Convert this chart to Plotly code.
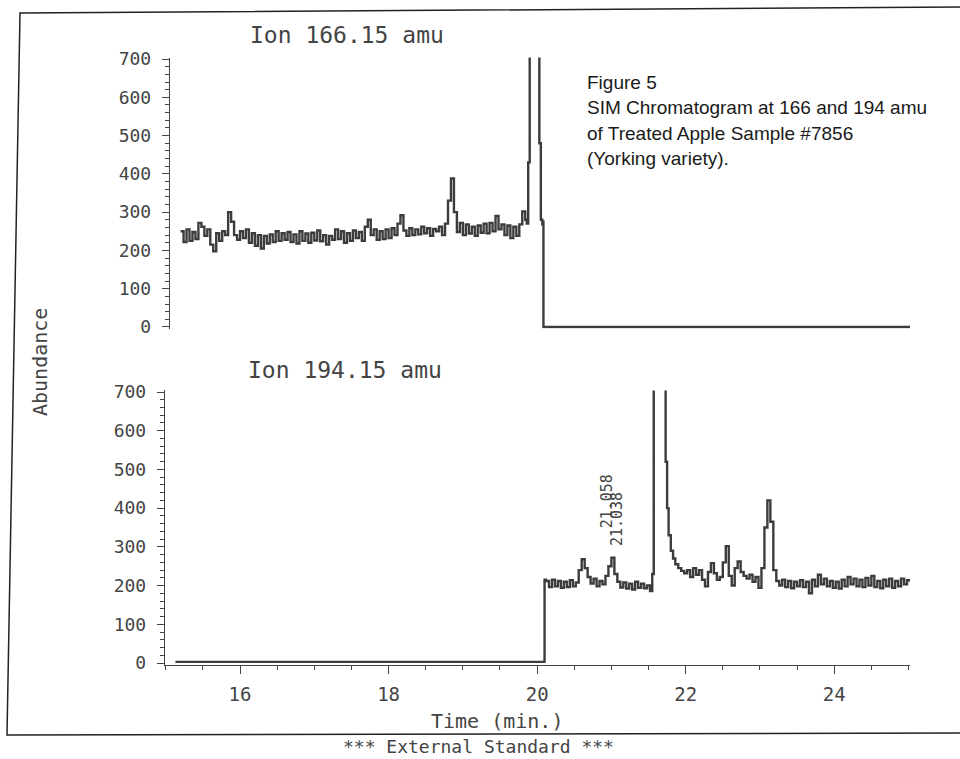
import plotly.graph_objects as go

# ---------------- data ----------------
# Ion 166.15 amu : noisy section sampled every 0.04 min from 15.20 min
top_scan_start = 15.20
top_scan_step = 0.04
top_noise = [250, 222, 255, 225, 248, 230, 272, 262, 238, 255,
             215, 198, 245, 225, 250, 240, 300, 275, 240, 228,
             250, 232, 255, 220, 245, 212, 240, 205, 238, 218,
             242, 222, 250, 225, 245, 228, 248, 222, 242, 218,
             250, 225, 244, 220, 246, 226, 252, 224, 240, 215,
             238, 228, 255, 230, 250, 220, 245, 225, 252, 232,
             248, 225, 262, 280, 240, 255, 228, 250, 230, 255,
             232, 258, 240, 270, 292, 252, 238, 258, 240, 255,
             242, 262, 245, 258, 238, 256, 250, 262, 240, 270,
             330, 388, 300, 248, 272, 240, 268, 244, 262, 238,
             265, 246, 270, 245, 272, 250, 290, 255, 268, 240,
             265, 232, 262, 238, 268, 302, 280]
top_end_time = [19.86, 19.88, 19.90, 19.93, 20.00, 20.03, 20.05, 20.07, 20.08, 20.085, 25.02]
top_end_vals = [270, 430, 760, 900, 900, 480, 280, 268, 275, 0, 0]

# Ion 194.15 amu
bot_start_time = [15.13, 20.09, 20.10]
bot_start_vals = [3, 3, 215]
bot_scan1_start = 20.12
bot_scan_step = 0.04
bot_noise1 = [212, 196, 215, 198, 212, 194, 210, 196, 214, 198,
              208, 240, 268, 245, 222, 205, 218, 198, 212, 203,
              225, 250, 272, 230, 210, 195, 208, 192, 205, 190,
              210, 194, 205, 193, 200, 186]
bot_peak_time = [21.55, 21.57, 21.65, 21.71, 21.73, 21.75, 21.77, 21.80, 21.83,
                 21.86, 21.90, 21.94, 21.98]
bot_peak_vals = [230, 900, 950, 900, 520, 400, 330, 290, 270, 255, 245, 238, 232]
bot_scan2_start = 22.02
bot_noise2 = [240, 222, 245, 228, 240, 215, 198, 235, 258, 232,
              215, 222, 260, 302, 225, 200, 245, 262, 235, 225,
              218, 228, 210, 222, 194, 245, 350, 420, 365, 240,
              212, 200, 215, 196, 212, 193, 210, 198, 214, 196,
              210, 180, 215, 198, 228, 203, 218, 198, 212, 194,
              210, 192, 215, 198, 222, 203, 218, 198, 215, 196,
              220, 200, 225, 196, 212, 193, 215, 198, 218, 194,
              212, 198, 218, 203, 214]

x_ticks = [16, 18, 20, 22, 24]
y_ticks = [0, 100, 200, 300, 400, 500, 600, 700]
peak_label_a = ("21.038", 21.077, 372)
peak_label_b = ("21.058", 20.943, 418)

# ---------------- build series ----------------
top_t = [round(top_scan_start + i * top_scan_step, 3) for i in range(len(top_noise))] + top_end_time
top_v = top_noise + top_end_vals

bot_t = (bot_start_time
         + [round(bot_scan1_start + i * bot_scan_step, 3) for i in range(len(bot_noise1))]
         + bot_peak_time
         + [round(bot_scan2_start + i * bot_scan_step, 3) for i in range(len(bot_noise2))]
         + [25.02])
bot_v = bot_start_vals + bot_noise1 + bot_peak_vals + bot_noise2 + [210]

# ---------------- layout helpers ----------------
W, H = 960, 759
ML, MR, MT, MB = 165, 50, 40, 80
PW, PH = W - ML - MR, H - MT - MB


def fx(p):
    return (p - ML) / PW


def fy(p):
    return (H - MB - p) / PH


INK = "#444444"
MONO = "DejaVu Sans Mono"
XR = [14.99, 25.02]
PX_PER_MIN = PW / (XR[1] - XR[0])
XR_TOP = [XR[0] + 5 / PX_PER_MIN, XR[1]]
YR = [-4, 704]
TRACE = "#3c3c3c"

fig = go.Figure()
fig.add_trace(go.Scatter(x=top_t, y=top_v, mode="lines", xaxis="x2", yaxis="y2",
                         line=dict(color=TRACE, width=2.4, shape="hv"),
                         showlegend=False, hoverinfo="skip"))
fig.add_trace(go.Scatter(x=bot_t, y=bot_v, mode="lines", xaxis="x", yaxis="y",
                         line=dict(color=TRACE, width=2.4, shape="hv"),
                         showlegend=False, hoverinfo="skip"))

yaxis_common = dict(range=YR, tickmode="array", tickvals=y_ticks, ticks="outside", ticklen=7,
                    tickwidth=1.2, tickcolor=INK, showline=True, linecolor=INK, linewidth=1.4,
                    showgrid=False, zeroline=False, ticklabelstandoff=7,
                    tickfont=dict(family=MONO, size=18, color=INK),
                    minor=dict(dtick=20, tick0=0, ticks="outside", ticklen=4, tickcolor=INK,
                               tickwidth=1, showgrid=False))

fig.update_layout(
    width=W, height=H, margin=dict(l=ML, r=MR, t=MT, b=MB),
    paper_bgcolor="white", plot_bgcolor="white",
    xaxis=dict(range=XR, domain=[0, 1], anchor="y", tickmode="array", tickvals=x_ticks,
               ticks="outside", ticklen=8, tickwidth=1.2, tickcolor=INK, showline=True,
               linecolor=INK, linewidth=1.4, showgrid=False, zeroline=False,
               ticklabelstandoff=4, tickfont=dict(family=MONO, size=19, color=INK),
               minor=dict(dtick=0.5, tick0=15, ticks="outside", ticklen=4, tickcolor=INK,
                          tickwidth=1, showgrid=False)),
    xaxis2=dict(range=XR_TOP, domain=[fx(170), 1], anchor="y2", visible=False),
    yaxis=dict(domain=[fy(664.55), fy(390.45)], anchor="x", **yaxis_common),
    yaxis2=dict(domain=[fy(328.5), fy(57.5)], anchor="x2", **yaxis_common),
)


def pann(text, xp, yp, size, family=MONO, color=INK, xanchor="center", angle=0):
    return dict(text=text, x=fx(xp), y=fy(yp), xref="paper", yref="paper",
                xanchor=xanchor, yanchor="middle", textangle=angle, showarrow=False,
                font=dict(family=family, size=size, color=color))


ann = [
    pann("Ion 166.15 amu", 347, 35, 23),
    pann("Ion 194.15 amu", 345, 370, 23),
    pann("Abundance", 40, 362, 20, angle=-90),
    pann("Time (min.)", 497, 721, 20),
    pann("*** External Standard ***", 478, 746, 18),
]
fig_lines = ["Figure 5", "SIM Chromatogram at 166 and 194 amu",
             "of Treated Apple Sample #7856", "(Yorking variety)."]
for i, line in enumerate(fig_lines):
    ann.append(pann(line, 585, 83 + i * 25, 19, family="Liberation Sans",
                    color="#1a1a1a", xanchor="left"))
for txt, xv, yv in (peak_label_a, peak_label_b):
    ann.append(dict(text=txt, x=xv, y=yv, xref="x", yref="y", textangle=-90,
                    xanchor="center", yanchor="middle",
                    showarrow=False, font=dict(family=MONO, size=15, color=INK)))
fig.update_layout(annotations=ann)

# page frame (scanned border)
frame = dict(type="path", xref="paper", yref="paper", line=dict(color="#222222", width=1.5))
fig.add_shape(path=f"M {fx(960)} {fy(7)} L {fx(20)} {fy(13)} L {fx(7)} {fy(735)} L {fx(960)} {fy(733)}",
              **frame)

fig.write_html("out.html")
